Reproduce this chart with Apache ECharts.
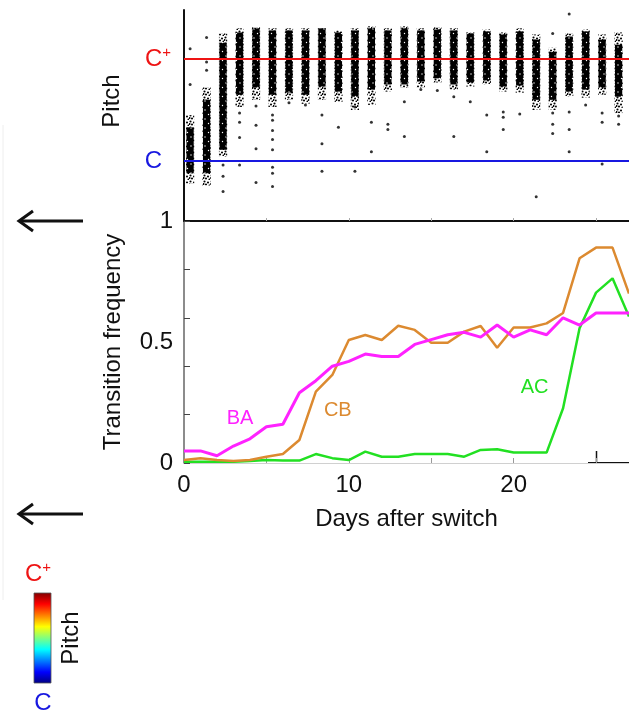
<!DOCTYPE html>
<html><head><meta charset="utf-8">
<script src="https://cdn.jsdelivr.net/npm/echarts@6/dist/echarts.min.js"></script>
<style>html,body{margin:0;padding:0;background:#fff}#c{width:629px;height:724px}</style>
</head><body><div id="c"></div>
<script>
// ---------- data ----------
const days = [0,1,2,3,4,5,6,7,8,9,10,11,12,13,14,15,16,17,18,19,20,21,22,23,24,25,26,27];
const BA = [0.05,0.05,0.03,0.07,0.10,0.15,0.16,0.29,0.34,0.40,0.42,0.45,0.44,0.44,0.49,0.51,0.53,0.54,0.52,0.57,0.52,0.55,0.53,0.60,0.57,0.62,0.62,0.62];
const CB = [0.012,0.02,0.012,0.008,0.012,0.026,0.037,0.095,0.295,0.364,0.508,0.529,0.508,0.567,0.55,0.497,0.497,0.543,0.566,0.476,0.56,0.56,0.577,0.62,0.846,0.89,0.89,0.70];
const AC = [0.005,0.005,0.005,0.005,0.008,0.012,0.01,0.01,0.037,0.02,0.012,0.047,0.026,0.026,0.037,0.037,0.037,0.026,0.054,0.057,0.043,0.043,0.043,0.226,0.557,0.704,0.763,0.605];

// pitch (C = 0, C+ = 1), one recording column per day
const pitchDays  = [0,1,2,3,4,5,6,7,8,9,10,11,12,13,14,15,16,17,18,19,20,21,22,23,24,25,26];
const spreadLow  = [-0.22,-0.24,0.04,0.53,0.60,0.53,0.60,0.56,0.60,0.58,0.50,0.55,0.68,0.72,0.72,0.77,0.70,0.73,0.75,0.68,0.67,0.50,0.50,0.63,0.62,0.65,0.47];
const spreadHigh = [0.45,0.72,1.25,1.30,1.31,1.30,1.30,1.30,1.30,1.28,1.30,1.32,1.30,1.32,1.30,1.31,1.30,1.26,1.29,1.26,1.30,1.24,1.11,1.25,1.29,1.24,1.26];
const coreLow    = [-0.12,-0.12,0.11,0.65,0.72,0.65,0.67,0.65,0.73,0.68,0.63,0.70,0.75,0.75,0.78,0.81,0.75,0.77,0.79,0.73,0.74,0.60,0.60,0.68,0.70,0.72,0.63];
const coreHigh   = [0.33,0.60,1.16,1.26,1.30,1.28,1.28,1.28,1.30,1.26,1.28,1.30,1.28,1.30,1.28,1.29,1.28,1.25,1.27,1.24,1.27,1.19,1.07,1.22,1.27,1.19,1.14];
const outliers = [
  [0,1.10],[0,0.75],[1,1.21],[1,0.97],[1,0.89],
  [2,-0.04],[2,-0.15],[2,-0.30],
  [3,0.47],[3,0.38],[3,0.23],[3,-0.04],
  [4,0.54],[4,0.35],[4,0.12],[4,-0.21],
  [5,0.45],[5,0.40],[5,0.30],[5,0.21],[5,0.11],[5,-0.06],[5,-0.12],[5,-0.25],
  [6,0.57],[7,0.55],[8,0.45],[8,0.17],[8,-0.10],[9,0.33],
  [10,0.53],[10,-0.10],[11,0.38],[11,0.09],[12,0.36],[12,0.31],
  [13,0.58],[13,0.24],[14,0.70],[15,0.69],[16,0.63],[16,0.24],[17,0.58],
  [18,0.45],[18,0.09],[19,0.48],[19,0.43],[19,0.31],[20,0.46],[21,-0.35],
  [22,1.25],[22,0.47],[22,0.36],[22,0.27],[23,1.44],[23,0.48],[23,0.31],[23,0.09],
  [24,0.55],[25,0.47],[25,0.38],[25,-0.03],[26,0.36],[26,0.44]
];
const pitchTicks = [0, 1];
const freqTicks = [0, 0.5, 1];
const dayTicks = [0, 10, 20];

// ---------- styles ----------
const FONT = 'Liberation Sans, Arial, Helvetica, sans-serif';
const RED = '#ee1414', BLUE = '#1818e0';
const MAG = '#ff22ff', ORA = '#dc8a30', GRN = '#22e022';
const COL_OFF = 0.12, COL_W = 0.5;

function makePattern(w, h, bg, dotColor, dots, r) {
  const c = document.createElement('canvas'); c.width = w; c.height = h;
  const g = c.getContext('2d');
  if (bg) { g.fillStyle = bg; g.fillRect(0, 0, w, h); }
  g.fillStyle = dotColor;
  dots.forEach(([x, y]) => { g.beginPath(); g.arc(x, y, r, 0, Math.PI * 2); g.fill(); });
  return { image: c, repeat: 'repeat' };
}
// dense core: black with a few light specks; sparse fringe: scattered dots
const densePat = makePattern(7, 9, '#000', '#fff', [[2, 2], [5.5, 6.5]], 0.7);
const sparsePat = makePattern(7, 6, null, '#000', [[1.5, 1.5], [5, 2.5], [3, 4.5], [6.5, 5.5], [0.5, 4]], 1.05);

const chart = echarts.init(document.getElementById('c'));
chart.setOption({
  animation: false,
  backgroundColor: '#fff',
  textStyle: { fontFamily: FONT },
  grid: [
    { left: 184, right: 0, top: 10, height: 211 },
    { left: 184, right: 0, top: 221, height: 242 }
  ],
  xAxis: [
    { gridIndex: 0, type: 'value', min: 0, max: 27,
      axisLine: { show: true, onZero: false, lineStyle: { color: '#111', width: 2 } },
      axisTick: { show: true, inside: true, length: 3, customValues: [5,10,15,20,25], lineStyle: { color: '#aaa' } },
      axisLabel: { show: false }, splitLine: { show: false } },
    { gridIndex: 1, type: 'value', min: 0, max: 27,
      axisLine: { show: true, onZero: false, lineStyle: { color: '#d0d0d0', width: 1 } },
      axisTick: { show: true, inside: true, length: 5, customValues: [5,10,15,20,25], lineStyle: { color: '#999' } },
      axisLabel: { customValues: dayTicks, color: '#111', fontSize: 24, margin: 10, fontFamily: FONT },
      splitLine: { show: false },
      name: 'Days after switch', nameLocation: 'middle', nameGap: 44,
      nameTextStyle: { color: '#111', fontSize: 24, fontFamily: FONT } }
  ],
  yAxis: [
    { gridIndex: 0, type: 'value', min: -0.588, max: 1.48,
      axisLine: { show: true, onZero: false, lineStyle: { color: '#111', width: 2 } },
      axisTick: { show: false }, splitLine: { show: false },
      axisLabel: { customValues: pitchTicks, margin: 13,
        formatter: v => v === 1 ? '{r|C}{rp|+}' : '{b|C}',
        rich: {
          r: { color: RED, fontSize: 24, fontFamily: FONT },
          rp: { color: RED, fontSize: 15, fontFamily: FONT, padding: [0, 0, 12, 0] },
          b: { color: BLUE, fontSize: 24, fontFamily: FONT, padding: [0, 9, 0, 0] }
        } } },
    { gridIndex: 1, type: 'value', min: 0, max: 1, interval: 0.2,
      axisLine: { show: true, onZero: false, lineStyle: { color: '#666', width: 1.5 } },
      axisTick: { show: true, inside: true, length: 6, lineStyle: { color: '#444' } },
      axisLabel: { customValues: freqTicks, color: '#111', fontSize: 24, margin: 11, fontFamily: FONT,
        formatter: v => String(v) },
      splitLine: { show: false },
      name: 'Transition frequency', nameLocation: 'middle', nameGap: 59, nameRotate: 90,
      nameTextStyle: { color: '#111', fontSize: 24, fontFamily: FONT } }
  ],
  series: [
    { type: 'custom', xAxisIndex: 0, yAxisIndex: 0, clip: true,
      data: pitchDays.map((d, i) => [d, spreadLow[i], spreadHigh[i], coreLow[i], coreHigh[i]]),
      renderItem: (params, api) => {
        const d = api.value(0);
        const x0 = api.coord([d + COL_OFF, 0])[0];
        const x1 = api.coord([d + COL_OFF + COL_W, 0])[0];
        const ys0 = api.coord([d, api.value(2)])[1], ys1 = api.coord([d, api.value(1)])[1];
        const yc0 = api.coord([d, api.value(4)])[1], yc1 = api.coord([d, api.value(3)])[1];
        return { type: 'group', children: [
          { type: 'rect', shape: { x: x0, y: ys0, width: x1 - x0, height: ys1 - ys0 }, style: { fill: sparsePat } },
          { type: 'rect', shape: { x: x0 + 0.5, y: yc0, width: x1 - x0 - 1, height: yc1 - yc0 }, style: { fill: densePat } }
        ] };
      } },
    { type: 'scatter', xAxisIndex: 0, yAxisIndex: 0, symbolSize: 3,
      itemStyle: { color: '#000' },
      data: outliers.map(([d, p]) => [d + COL_OFF + COL_W / 2, p]),
      markLine: { silent: true, symbol: 'none', label: { show: false }, animation: false,
        lineStyle: { type: 'solid', width: 2 },
        data: [ { yAxis: 1, lineStyle: { color: RED, type: 'solid', width: 2 } },
                { yAxis: 0, lineStyle: { color: BLUE, type: 'solid', width: 2 } } ] } },
    { name: 'AC', type: 'line', xAxisIndex: 1, yAxisIndex: 1, showSymbol: false, symbol: 'none',
      lineStyle: { color: GRN, width: 2.5 }, data: days.map((d, i) => [d, AC[i]]),
      markPoint: { symbolSize: 0, data: [{ coord: [21.27, 0.314], name: 'AC' }],
        label: { show: true, formatter: 'AC', color: GRN, fontSize: 20, fontFamily: FONT } } },
    { name: 'CB', type: 'line', xAxisIndex: 1, yAxisIndex: 1, showSymbol: false, symbol: 'none',
      lineStyle: { color: ORA, width: 2.5 }, data: days.map((d, i) => [d, CB[i]]),
      markPoint: { symbolSize: 0, data: [{ coord: [9.33, 0.219], name: 'CB' }],
        label: { show: true, formatter: 'CB', color: ORA, fontSize: 20, fontFamily: FONT } } },
    { name: 'BA', type: 'line', xAxisIndex: 1, yAxisIndex: 1, showSymbol: false, symbol: 'none',
      lineStyle: { color: MAG, width: 3 }, data: days.map((d, i) => [d, BA[i]]),
      markPoint: { symbolSize: 0, data: [{ coord: [3.4, 0.186], name: 'BA' }],
        label: { show: true, formatter: 'BA', color: MAG, fontSize: 20, fontFamily: FONT } } }
  ],
  graphic: [
    { type: 'text', x: 112, y: 101, rotation: Math.PI / 2,
      style: { text: 'Pitch', fill: '#111', font: '24px ' + FONT, align: 'center', verticalAlign: 'middle' } },
    // arrows
    { type: 'line', shape: { x1: 20, y1: 221, x2: 83, y2: 221 }, style: { stroke: '#111', lineWidth: 3 } },
    { type: 'polyline', shape: { points: [[33, 211], [19, 221], [33, 231]] }, style: { stroke: '#111', lineWidth: 3, fill: null } },
    { type: 'line', shape: { x1: 20, y1: 514, x2: 83, y2: 514 }, style: { stroke: '#111', lineWidth: 3 } },
    { type: 'polyline', shape: { points: [[33, 504], [19, 514], [33, 524]] }, style: { stroke: '#111', lineWidth: 3, fill: null } },
    // faint panel edge
    { type: 'line', shape: { x1: 3, y1: 125, x2: 3, y2: 600 }, style: { stroke: '#eeeeee', lineWidth: 1 } },
    // black segment at bottom right
    { type: 'line', shape: { x1: 588, y1: 463, x2: 629, y2: 463 }, style: { stroke: '#111', lineWidth: 2 } },
    { type: 'line', shape: { x1: 596.5, y1: 451, x2: 596.5, y2: 463 }, style: { stroke: '#111', lineWidth: 1.5 } },
    // colour bar
    { type: 'rect', shape: { x: 34, y: 593, width: 17, height: 90 },
      style: { stroke: '#555', lineWidth: 0.8,
        fill: new echarts.graphic.LinearGradient(0, 0, 0, 1, [
          { offset: 0, color: '#800000' }, { offset: 0.125, color: '#ff0000' },
          { offset: 0.375, color: '#ffff00' }, { offset: 0.5, color: '#80ff80' },
          { offset: 0.625, color: '#00ffff' }, { offset: 0.875, color: '#0000ff' },
          { offset: 1, color: '#000080' } ]) } },
    { type: 'text', x: 38, y: 574, style: { text: '{a|C}{b|+}', align: 'center', verticalAlign: 'middle',
        rich: { a: { fill: RED, fontSize: 24, fontFamily: FONT }, b: { fill: RED, fontSize: 15, fontFamily: FONT, padding: [0,0,12,0] } } } },
    { type: 'text', x: 43, y: 703, style: { text: 'C', fill: BLUE, font: '24px ' + FONT, align: 'center', verticalAlign: 'middle' } },
    { type: 'text', x: 71, y: 638, rotation: Math.PI / 2,
      style: { text: 'Pitch', fill: '#111', font: '24px ' + FONT, align: 'center', verticalAlign: 'middle' } }
  ]
});
</script></body></html>
